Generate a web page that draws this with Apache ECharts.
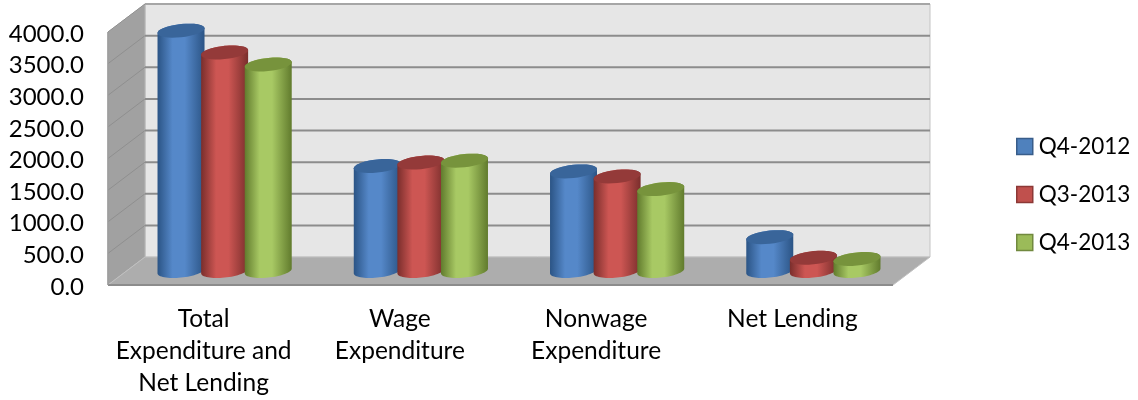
<!DOCTYPE html>
<html>
<head>
<meta charset="utf-8">
<style>html,body{margin:0;padding:0;background:#fff}#chart{width:1138px;height:400px}</style>
<script src="https://cdn.jsdelivr.net/npm/echarts@6/dist/echarts.min.js"></script>
</head>
<body>
<div id="chart"></div>
<script>
// Expenditure by quarter
const categories = ['Total\nExpenditure and\nNet Lending', 'Wage\nExpenditure', 'Nonwage\nExpenditure', 'Net Lending'];
const q42012 = [3800, 1660, 1575, 535];
const q32013 = [3455, 1715, 1495, 210];
const q42013 = [3265, 1745, 1295, 190];
const yTicks = [0, 500, 1000, 1500, 2000, 2500, 3000, 3500, 4000];

// Oblique projection of the box: how far the back wall sits from the front plane
const DEPTH_X = 37;
const DEPTH_Y = -28;
const BAR_STEP = 43.6;
const BAR_RX = 23.5;
const BAR_RY = 6.6;
const BAR_SHEAR = -0.1;

const FONT = 'Lato';
const TEXT_COLOR = '#000';

const palette = [
  { name: 'Q4-2012', data: q42012, edge: '#2b5485', mid: '#5588c9', top: '#39659a', swatch: '#4f81bd', line: '#385d8a' },
  { name: 'Q3-2013', data: q32013, edge: '#7a2e2c', mid: '#cd5653', top: '#943a39', swatch: '#c0504d', line: '#8c3836' },
  { name: 'Q4-2013', data: q42013, edge: '#617b2d', mid: '#a8c964', top: '#77933c', swatch: '#9bbb59', line: '#71893f' }
];

// Points of a sheared ellipse between two angles
function arc(cx, cy, from, to) {
  const pts = [];
  const n = 32;
  for (let i = 0; i <= n; i++) {
    const t = from + (to - from) * i / n;
    const dx = BAR_RX * Math.cos(t);
    pts.push([cx + dx, cy + BAR_RY * Math.sin(t) + BAR_SHEAR * dx]);
  }
  return pts;
}

function renderBox(params, api) {
  const lo = api.coord([0, 0]);
  const hi = api.coord([0, yTicks[yTicks.length - 1]]);
  const cs = params.coordSys;
  const left = cs.x, right = cs.x + cs.width, bottom = lo[1], top = hi[1];
  const children = [
    { type: 'polygon', shape: { points: [[left + DEPTH_X, top + DEPTH_Y], [right + DEPTH_X, top + DEPTH_Y], [right + DEPTH_X, bottom + DEPTH_Y], [left + DEPTH_X, bottom + DEPTH_Y]] },
      style: { fill: '#e6e6e6', stroke: '#c4c4c4', lineWidth: 1 } },
    { type: 'polygon', shape: { points: [[left, top], [left + DEPTH_X, top + DEPTH_Y], [left + DEPTH_X, bottom + DEPTH_Y], [left, bottom]] },
      style: { fill: '#a1a1a1', stroke: '#b4b4b4', lineWidth: 1 } },
    { type: 'polygon', shape: { points: [[left, bottom], [right, bottom], [right + DEPTH_X, bottom + DEPTH_Y], [left + DEPTH_X, bottom + DEPTH_Y]] },
      style: { fill: '#adadad', stroke: '#c0c0c0', lineWidth: 1 } }
  ];
  yTicks.forEach(function (v) {
    const y = api.coord([0, v])[1];
    if (v > 0) {
      children.push({ type: 'line', shape: { x1: left, y1: y, x2: left + DEPTH_X, y2: y + DEPTH_Y },
        style: { stroke: '#8f8f8f', lineWidth: 1 } });
      children.push({ type: 'line', shape: { x1: left + DEPTH_X, y1: y + DEPTH_Y, x2: right + DEPTH_X, y2: y + DEPTH_Y },
        style: { stroke: v === 4000 ? '#a6a6a6' : '#8c8c8c', lineWidth: 2 } });
    }
  });
  children.push({ type: 'line', shape: { x1: left, y1: bottom, x2: right, y2: bottom }, style: { stroke: '#8c8c8c', lineWidth: 2 } });
  children.push({ type: 'line', shape: { x1: left, y1: top, x2: left, y2: bottom }, style: { stroke: '#9a9a9a', lineWidth: 1.5 } });
  return { type: 'group', children: children };
}

function renderCylinder(seriesIndex) {
  const look = palette[seriesIndex];
  return function (params, api) {
    const cat = api.value(0);
    const base = api.coord([cat, 0]);
    const head = api.coord([cat, api.value(1)]);
    const cx = base[0] + DEPTH_X / 2 + (seriesIndex - 1) * BAR_STEP;
    const by = base[1] + DEPTH_Y / 2;
    const ty = head[1] + DEPTH_Y / 2;
    const body = arc(cx, ty, Math.PI, 2 * Math.PI).concat(arc(cx, by, 0, Math.PI));
    const fill = new echarts.graphic.LinearGradient(0, 0, 1, 0, [
      { offset: 0, color: look.edge },
      { offset: 0.32, color: look.mid },
      { offset: 0.58, color: look.mid },
      { offset: 1, color: look.edge }
    ]);
    return {
      type: 'group',
      children: [
        { type: 'polygon', shape: { points: body }, style: { fill: fill } },
        { type: 'polygon', shape: { points: arc(cx, ty, 0, 2 * Math.PI) }, style: { fill: look.top } }
      ]
    };
  };
}

const chart = echarts.init(document.getElementById('chart'), null, { renderer: 'canvas' });
chart.setOption({
  animation: false,
  backgroundColor: '#fff',
  grid: { left: 108, top: 32, width: 785, height: 253, containLabel: false },
  xAxis: {
    type: 'category',
    data: categories,
    axisLine: { show: false },
    axisTick: { show: false },
    axisLabel: { color: TEXT_COLOR, fontFamily: FONT, fontSize: 24.5, lineHeight: 32, margin: 18, interval: 0, padding: [0, 5, 0, 0] }
  },
  yAxis: {
    type: 'value',
    min: 0,
    max: 4000,
    interval: 500,
    axisLine: { show: false },
    axisTick: { show: false },
    splitLine: { show: false },
    axisLabel: {
      color: TEXT_COLOR,
      margin: 24,
      formatter: function (v) { return '{t|' + v.toFixed(1) + '}'; },
      rich: { t: { color: TEXT_COLOR, fontFamily: FONT, fontSize: 24, padding: [4, 0, 0, 0] } }
    }
  },
  legend: {
    left: 1011,
    top: 128,
    orient: 'vertical',
    itemWidth: 16,
    itemHeight: 16,
    itemGap: 21,
    icon: 'rect',
    textStyle: { color: TEXT_COLOR, fontFamily: FONT, fontSize: 22.5, padding: [3, 0, 0, 1], lineHeight: 24 },
    data: palette.map(function (p) {
      return { name: p.name, itemStyle: { color: p.swatch, borderColor: p.line, borderWidth: 1.5 } };
    })
  },
  series: [
    { type: 'custom', name: 'box', silent: true, clip: false, data: [[0, 0]], renderItem: renderBox, z: 1 }
  ].concat(palette.map(function (p, i) {
    return {
      type: 'custom',
      name: p.name,
      clip: false,
      z: 2 + i,
      itemStyle: { color: p.swatch },
      encode: { x: 0, y: 1 },
      data: p.data.map(function (v, c) { return [c, v]; }),
      renderItem: renderCylinder(i)
    };
  }))
});
</script>
</body>
</html>
